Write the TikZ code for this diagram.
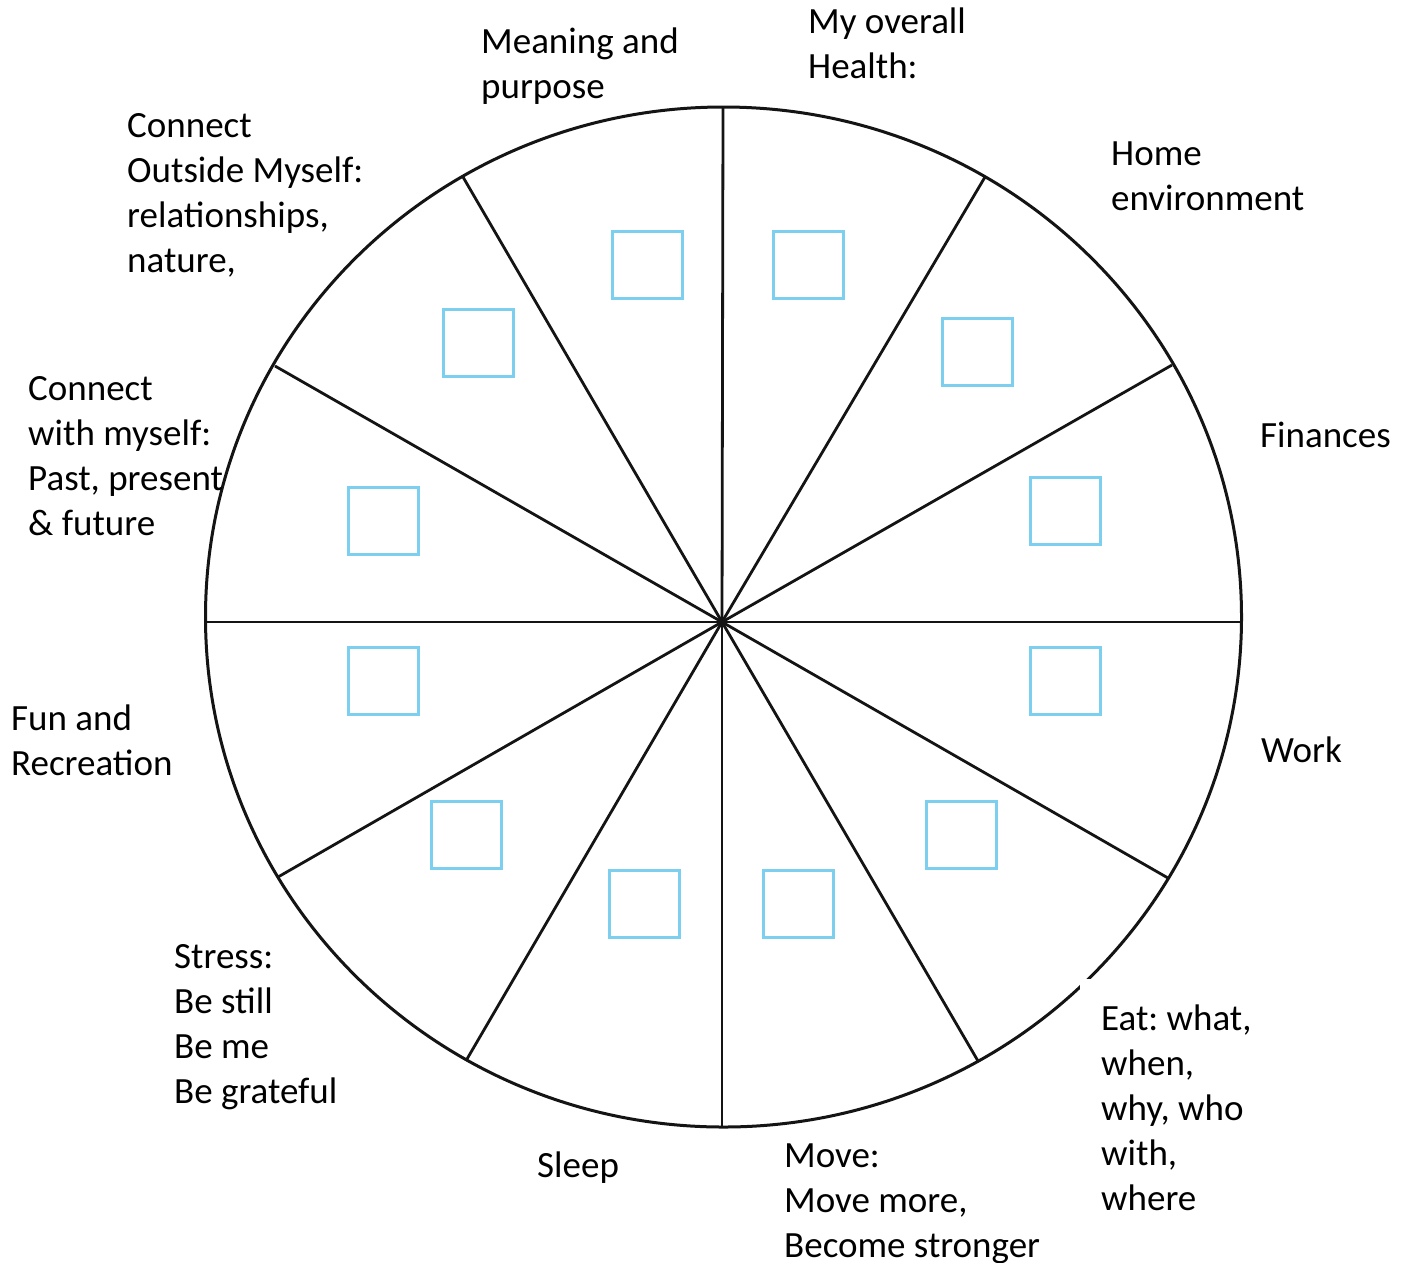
\documentclass[tikz,border=0pt]{standalone}
\usepackage{fontspec}
\setmainfont{Carlito}
\frenchspacing
\definecolor{boxblue}{RGB}{125,207,240}
\definecolor{ink}{RGB}{20,20,20}
\begin{document}
\begin{tikzpicture}[x=1pt,y=-1pt,
  wheel/.style={draw=ink,line width=3pt},
  spoke/.style={draw=ink,line width=2.8pt},
  scorebox/.style={draw=boxblue,line width=3pt,minimum width=70pt,minimum height=67pt,inner sep=0pt},
  label/.style={anchor=base west,align=left,inner sep=0pt,font=\fontsize{37}{45}\selectfont\frenchspacing}]
\useasboundingbox (0,0) rectangle (1407,1262);
\fill[white] (0,0) rectangle (1407,1262);

% the wheel outline
\draw[wheel] (723.5,617) ellipse [x radius=518, y radius=510];

% hub and rim points of the twelve spokes
\coordinate (hub) at (722,622);
\coordinate (r0)   at (1241.5,622);
\coordinate (r30)  at (1172,365);
\coordinate (r60)  at (985,177);
\coordinate (r90)  at (723,107);
\coordinate (r120) at (463,177);
\coordinate (r150) at (275,366);
\coordinate (r180) at (205.5,622);
\coordinate (r210) at (278,877);
\coordinate (r240) at (467,1059);
\coordinate (r270) at (722,1127);
\coordinate (r300) at (978,1061);
\coordinate (r330) at (1168,878);
\foreach \a in {0,30,...,330} \draw[spoke] (hub) -- (r\a);

% small gap in the rim beside the "Eat" label
\fill[white] (1080,979) rectangle (1096,996);

% score boxes, one per segment
\node[scorebox] (b1)  at (647,264.5) {};
\node[scorebox] (b2)  at (808,264.5) {};
\node[scorebox] (b3)  at (977,352) {};
\node[scorebox] (b4)  at (1065,511) {};
\node[scorebox] (b5)  at (1065,681) {};
\node[scorebox] (b6)  at (961,834.5) {};
\node[scorebox] (b7)  at (798,903.5) {};
\node[scorebox] (b8)  at (644,903.5) {};
\node[scorebox] (b9)  at (466,834.5) {};
\node[scorebox] (b10) at (383,681) {};
\node[scorebox] (b11) at (383,521) {};
\node[scorebox] (b12) at (478,343) {};

% segment labels (anchored at the baseline of their last line)
\node[label] (lmean)   at (481,98)    {Meaning and\\purpose};
\node[label] (lhealth) at (808,78)    {My overall\\Health:};
\node[label] (lhome)   at (1111,210)  {Home\\environment};
\node[label] (lfin)    at (1260,447)  {Finances};
\node[label] (lwork)   at (1261,762)  {Work};
\node[label] (leat)    at (1101,1210) {Eat: what,\\when,\\why, who\\with,\\where};
\node[label] (lmove)   at (784,1257)  {Move:\\Move more,\\Become stronger};
\node[label] (lsleep)  at (537,1177)  {Sleep};
\node[label] (lstress) at (174,1103)  {Stress:\\Be still\\Be me\\Be grateful};
\node[label] (lfun)    at (11,775)    {Fun and\\Recreation};
\node[label] (lself)   at (28,535)    {Connect\\with myself:\\Past, present\\\& future};
\node[label] (lout)    at (127,272)   {Connect\\Outside Myself:\\relationships,\\nature,};
\end{tikzpicture}
\end{document}
